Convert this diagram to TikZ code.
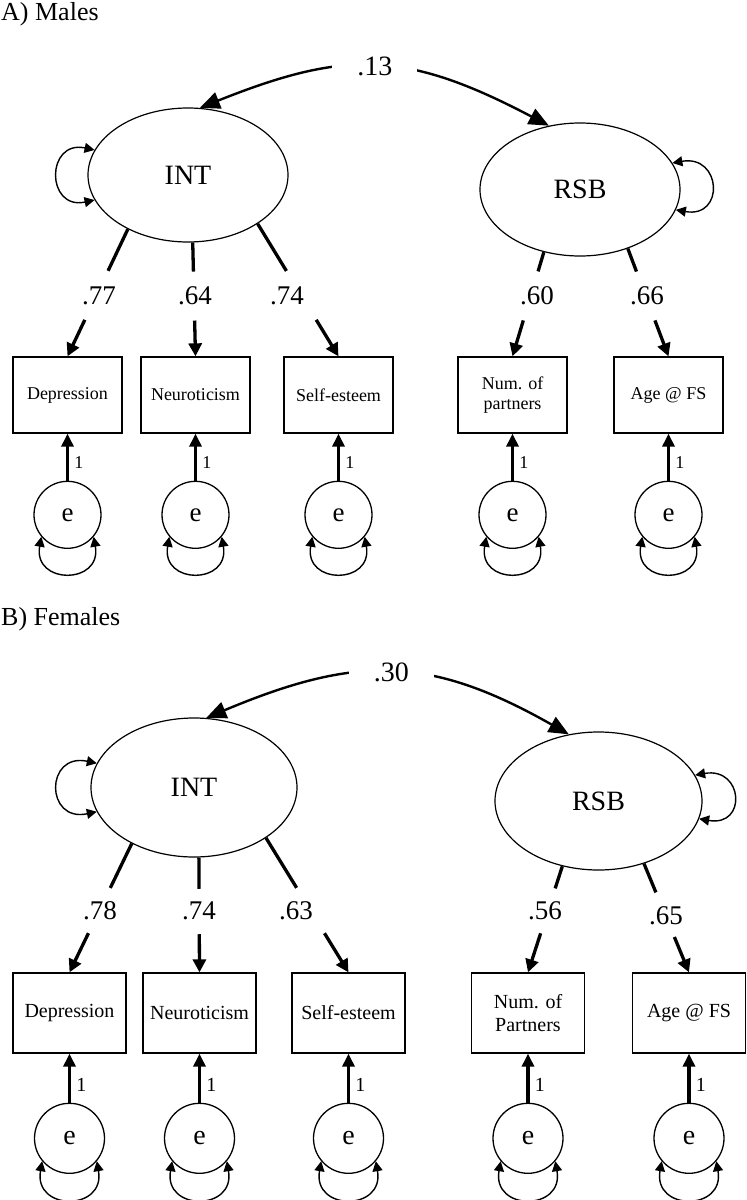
\documentclass[tikz,border=0pt]{standalone}
\usepackage{fontspec}
\setmainfont{Liberation Serif}
\usetikzlibrary{shapes,arrows.meta,positioning}

\tikzset{
  panel/.style = {anchor=base west, inner sep=0pt, font=\fontsize{26}{30}\selectfont},
  latent/.style = {ellipse, draw, line width=1.2pt, inner sep=0pt, font=\fontsize{28}{32}\selectfont},
  obsA/.style = {rectangle, draw, line width=1.3pt, align=center, inner sep=0pt, minimum width=109pt, minimum height=76pt, font=\fontsize{18}{20}\selectfont},
  obsB/.style = {obsA, minimum width=113pt, minimum height=80pt, font=\fontsize{20}{23}\selectfont},
  errA/.style = {circle, draw, line width=1.3pt, inner sep=0pt, minimum size=67pt, font=\fontsize{27}{30}\selectfont},
  errB/.style = {errA, minimum size=70pt, font=\fontsize{28}{30}\selectfont},
  coef/.style = {inner sep=0pt, font=\fontsize{27}{30}\selectfont},
  covlbl/.style = {fill=white, inner xsep=25pt, inner ysep=3pt, font=\fontsize{28}{30}\selectfont},
  onelbl/.style = {anchor=west, inner sep=5pt, font=\fontsize{18}{20}\selectfont},
  load/.style = {line width=3.3pt, -{Triangle[length=13pt,width=13pt]}},
  errpath/.style = {line width=3.5pt, -{Triangle[length=13pt,width=12pt]}},
  cov/.style = {line width=2.4pt, {Triangle[length=20pt,width=17pt]}-{Triangle[length=20pt,width=17pt]}},
  var/.style = {line width=1.4pt, {Triangle[length=10pt,width=10pt]}-{Triangle[length=10pt,width=10pt]}},
  gap/.style = {fill=white, sloped, inner sep=0pt, minimum height=7pt, minimum width=#1},
  gap/.default = 50pt
}

\begin{document}
\begin{tikzpicture}[x=1pt, y=1pt]
\useasboundingbox (0,0) rectangle (747,-1200);

%%%%%%%%%% A) Males
\node[panel] (titleA) at (1,-20) {A) Males};

% latent variables
\node[latent, minimum width=200pt, minimum height=134pt] (INTa) at (188,-175) {INT};
\node[latent, minimum width=200pt, minimum height=133pt] (RSBa) at (580,-189.5) {RSB};

% indicators
\node[obsA] (depA) at (67.5,-395) {Depression};
\node[obsA] (neuA) at (195.5,-395) {Neuroticism};
\node[obsA] (selfA) at (338.5,-395) {Self-esteem};
\node[obsA] (partA) at (512.5,-395) {Num. of\\partners};
\node[obsA] (ageA) at (668.5,-395) {Age @ FS};

% residuals
\node[errA, below=47pt of depA] (e1a) {e};
\node[errA, below=47pt of neuA] (e2a) {e};
\node[errA, below=47pt of selfA] (e3a) {e};
\node[errA, below=47pt of partA] (e4a) {e};
\node[errA, below=47pt of ageA] (e5a) {e};

% covariance
\draw[cov] (INTa.80) .. controls (345,-50) and (405,-50) .. node[covlbl] {.13} (RSBa.116);

% variances of the factors
\draw[var] (INTa.165) .. controls +(168:50) and +(192:50) .. (INTa.195);
\draw[var] (RSBa.16) .. controls +(10:50) and +(-10:50) .. (RSBa.-12);

% loadings
\draw[load] (INTa.222) -- node[gap=54pt, pos=.52] {} (depA.north);
\draw[load] (INTa.274) -- node[gap=49pt, pos=.47] {} (neuA.north);
\draw[load] (INTa.325) -- node[gap=57pt, pos=.54] {} (selfA.north);
\draw[load] (RSBa.240) -- node[gap=51pt, pos=.42] {} (partA.north);
\draw[load] (RSBa.309) -- node[gap=52pt, pos=.44] {} (ageA.north);
\node[coef] (l77) at (99,-296) {.77};
\node[coef] (l64) at (195,-296) {.64};
\node[coef] (l74) at (287,-296) {.74};
\node[coef] (l60) at (537,-296) {.60};
\node[coef] (l66) at (647,-296) {.66};

% residual paths
\draw[errpath] (e1a) -- node[onelbl, pos=.38] {1} (depA);
\draw[errpath] (e2a) -- node[onelbl, pos=.38] {1} (neuA);
\draw[errpath] (e3a) -- node[onelbl, pos=.38] {1} (selfA);
\draw[errpath] (e4a) -- node[onelbl, pos=.38] {1} (partA);
\draw[errpath] (e5a) -- node[onelbl, pos=.38] {1} (ageA);

% residual variances
\draw[var] (e1a.220) .. controls +(260:49) and +(280:49) .. (e1a.320);
\draw[var] (e2a.220) .. controls +(260:49) and +(280:49) .. (e2a.320);
\draw[var] (e3a.220) .. controls +(260:49) and +(280:49) .. (e3a.320);
\draw[var] (e4a.220) .. controls +(260:49) and +(280:49) .. (e4a.320);
\draw[var] (e5a.220) .. controls +(260:49) and +(280:49) .. (e5a.320);

%%%%%%%%%% B) Females
\node[panel] (titleB) at (1,-625) {B) Females};

% latent variables
\node[latent, minimum width=206pt, minimum height=139pt] (INTb) at (194,-787.5) {INT};
\node[latent, minimum width=207pt, minimum height=138pt] (RSBb) at (598.5,-801) {RSB};

% indicators
\node[obsB] (depB) at (69.5,-1013) {Depression};
\node[obsB] (neuB) at (199.5,-1013) {Neuroticism};
\node[obsB] (selfB) at (348.5,-1013) {Self-esteem};
\node[obsB] (partB) at (528,-1013) {Num. of\\Partners};
\node[obsB] (ageB) at (689,-1013) {Age @ FS};

% residuals
\node[errB, below=49pt of depB] (e1b) {e};
\node[errB, below=49pt of neuB] (e2b) {e};
\node[errB, below=49pt of selfB] (e3b) {e};
\node[errB, below=49pt of partB] (e4b) {e};
\node[errB, below=49pt of ageB] (e5b) {e};

% covariance
\draw[cov] (INTb.80) .. controls (356,-655) and (429,-655) .. node[covlbl] {.30} (RSBb.114);

% variances of the factors
\draw[var] (INTb.166) .. controls +(168:53) and +(192:53) .. (INTb.194);
\draw[var] (RSBb.15) .. controls +(10:49) and +(-10:49) .. (RSBb.-10);

% loadings
\draw[load] (INTb.222) -- node[gap=50pt, pos=.52] {} (depB.north);
\draw[load] (INTb.274) -- node[gap=45pt, pos=.47] {} (neuB.north);
\draw[load] (INTb.325) -- node[gap=53pt, pos=.54] {} (selfB.north);
\draw[load] (RSBb.241) -- node[gap=47pt, pos=.42] {} (partB.north);
\draw[load] (RSBb.306) -- node[gap=48pt, pos=.47] {} (ageB.north);
\node[coef] (l78) at (100,-911) {.78};
\node[coef] (l74b) at (199,-911) {.74};
\node[coef] (l63) at (296,-911) {.63};
\node[coef] (l56) at (545,-911) {.56};
\node[coef] (l65) at (666,-916) {.65};

% residual paths
\draw[errpath] (e1b) -- node[onelbl, pos=.37, font=\fontsize{20}{22}\selectfont] {1} (depB);
\draw[errpath] (e2b) -- node[onelbl, pos=.37, font=\fontsize{20}{22}\selectfont] {1} (neuB);
\draw[errpath] (e3b) -- node[onelbl, pos=.37, font=\fontsize{20}{22}\selectfont] {1} (selfB);
\draw[errpath] (e4b) -- node[onelbl, pos=.37, font=\fontsize{20}{22}\selectfont] {1} (partB);
\draw[errpath] (e5b) -- node[onelbl, pos=.37, font=\fontsize{20}{22}\selectfont] {1} (ageB);

% residual variances
\draw[var] (e1b.220) .. controls +(260:51) and +(280:51) .. (e1b.320);
\draw[var] (e2b.220) .. controls +(260:51) and +(280:51) .. (e2b.320);
\draw[var] (e3b.220) .. controls +(260:51) and +(280:51) .. (e3b.320);
\draw[var] (e4b.220) .. controls +(260:51) and +(280:51) .. (e4b.320);
\draw[var] (e5b.220) .. controls +(260:51) and +(280:51) .. (e5b.320);
\end{tikzpicture}
\end{document}
